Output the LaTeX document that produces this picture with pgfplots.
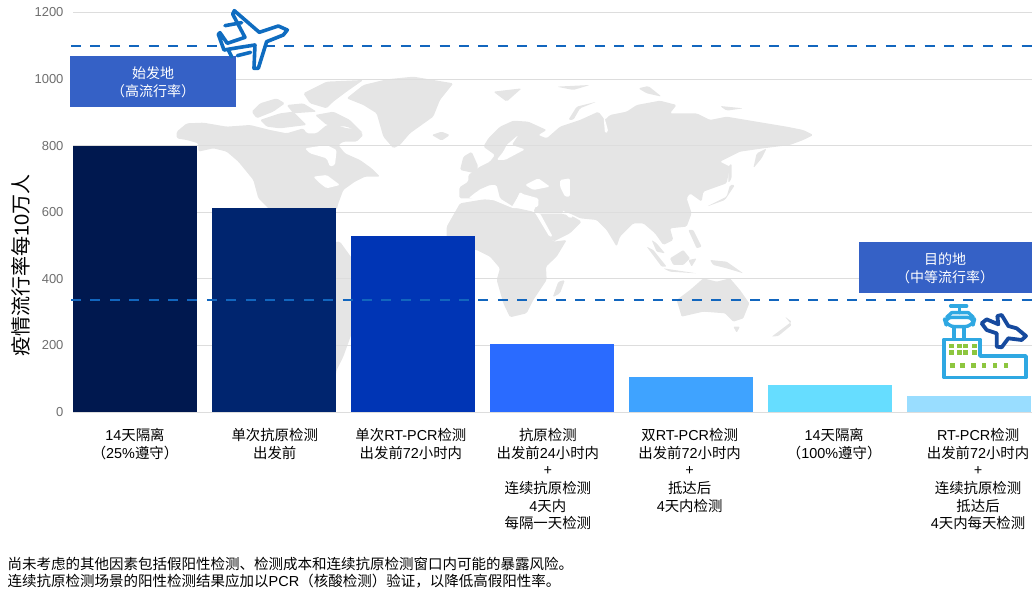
\documentclass[border=0pt]{standalone}
\usepackage{pgfplots}
\pgfplotsset{compat=1.18}
\usepackage{fontspec}
\setmainfont{Noto Sans CJK SC}
\newfontfamily\latf{Liberation Sans}
\newcommand\lat[1]{{\latf #1}}
\definecolor{mapgray}{HTML}{E5E5E5}
\definecolor{gridgray}{HTML}{DDDDDD}
\definecolor{tickgray}{HTML}{6E6E6E}
\definecolor{dashblue}{HTML}{1266BE}
\definecolor{boxblue}{HTML}{3561C6}
\definecolor{planeblue}{HTML}{0F6CC0}
\definecolor{airportblue}{HTML}{2FA8E2}
\definecolor{airportplane}{HTML}{164A9E}
\definecolor{dotgreen}{HTML}{8DC63F}
\definecolor{barA}{HTML}{00184F}
\definecolor{barB}{HTML}{00256F}
\definecolor{barC}{HTML}{0035B5}
\definecolor{barD}{HTML}{2A6BFF}
\definecolor{barE}{HTML}{3FA3FF}
\definecolor{barF}{HTML}{66DDFF}
\definecolor{barG}{HTML}{99DDFF}
\begin{document}
\begin{tikzpicture}
\path[use as bounding box] (0pt,0pt) rectangle (1032pt,592pt);

% faint world map behind the plot: the Americas and the Arctic
\begin{scope}[shift={(170pt,522pt)},x=.3333pt,y=-.3333pt,rounded corners=1.5pt]
\fill[mapgray] (20,185)--(50,160)--(100,158)--(170,170)--(240,165)--(300,180)--(350,190)--(400,175)--(410,190)--(440,190)--(470,165)--(500,165)--(530,175)--(560,175)--(580,195)--(560,215)--(520,215)--(505,225)--(525,250)--(570,270)--(605,295)--(630,320)--(585,320)--(555,335)--(520,360)--(505,400)--(500,420)--(300,420)--(265,385)--(250,330)--(205,275)--(170,245)--(130,235)--(85,245)--(85,220)--(50,210)--(20,205)--cycle;
\fill[white] (405,235)--(470,225)--(500,240)--(495,285)--(480,290)--(470,265)--(420,250)--cycle;
\fill[white] (430,320)--(470,315)--(510,345)--(470,355)--(450,340)--cycle;
\fill[mapgray] (245,125)--(270,100)--(320,85)--(345,100)--(310,125)--(260,145)--cycle;
\fill[mapgray] (270,150)--(330,130)--(370,125)--(410,165)--(330,175)--(290,170)--cycle;
\fill[mapgray] (400,70)--(470,35)--(580,30)--(530,65)--(490,95)--(470,115)--(420,100)--cycle;
\fill[mapgray] (435,135)--(490,125)--(540,150)--(580,190)--(530,170)--(470,165)--cycle;
\fill[mapgray] (350,105)--(400,100)--(440,125)--(370,130)--cycle;
% Greenland and Iceland
\fill[mapgray] (530,85)--(580,45)--(650,28)--(730,20)--(850,40)--(810,90)--(790,140)--(720,190)--(690,225)--(670,235)--(640,200)--(620,130)--(580,105)--cycle;
\fill[mapgray] (785,195)--(815,185)--(840,195)--(815,212)--cycle;
% South America, mostly behind the bars
\fill[mapgray] (400,520)--(510,515)--(600,640)--(520,860)--(500,900)--(485,1000)--(475,1000)--(470,850)--(400,700)--cycle;
\end{scope}

% Eurasia, Africa and the northern islands
\begin{scope}[shift={(470pt,522pt)},x=.3333pt,y=-.3333pt,rounded corners=1.5pt]
\fill[mapgray] (-32,352)--(-5,335)--(-5,315)--(30,290)--(60,275)--(75,255)--(40,230)--(55,205)--(90,170)--(130,152)--(175,155)--(230,180)--(205,195)--(230,205)--(270,170)--(330,150)--(385,125)--(405,150)--(420,135)--(470,125)--(500,105)--(570,92)--(620,105)--(600,130)--(680,130)--(720,150)--(770,140)--(860,155)--(950,170)--(1000,180)--(1030,195)--(1000,210)--(960,225)--(880,235)--(810,245)--(750,275)--(780,290)--(770,340)--(700,365)--(695,395)--(660,370)--(650,385)--(665,430)--(650,470)--(600,475)--(610,510)--(580,525)--(555,490)--(520,460)--(490,460)--(450,500)--(440,530)--(410,480)--(380,450)--(330,445)--(310,435)--(285,425)--(280,430)--(200,430)--(190,425)--(205,395)--(205,385)--(170,380)--(150,365)--(130,410)--(90,385)--(80,345)--(60,345)--(25,360)--(10,385)--(-32,385)--cycle;
\fill[mapgray] (200,432)--(280,432)--(310,440)--(335,455)--(300,490)--(250,515)--(240,500)--cycle;
\fill[mapgray] (-70,470)--(-30,400)--(60,385)--(120,410)--(190,425)--(205,440)--(250,515)--(290,510)--(260,560)--(228,590)--(230,630)--(190,690)--(170,730)--(120,742)--(100,700)--(80,630)--(90,595)--(60,560)--(20,540)--(-70,530)--cycle;
\fill[mapgray] (265,635)--(285,630)--(270,670)--(248,682)--cycle;
% British Isles
\fill[mapgray] (-20,260)--(5,245)--(25,290)--(15,310)--(-30,300)--cycle;
% inland seas
\fill[white] (-5,385)--(20,365)--(60,350)--(85,385)--(125,412)--(150,370)--(205,385)--(205,410)--(130,415)--(70,390)--cycle;
\fill[white] (165,345)--(205,325)--(240,350)--(190,360)--cycle;
\fill[white] (270,330)--(300,325)--(300,380)--(285,380)--(270,350)--cycle;
\fill[white] (110,225)--(145,195)--(125,225)--(165,238)--(105,270)--(80,270)--(100,245)--cycle;
\fill[white] (195,428)--(210,430)--(248,500)--(238,500)--cycle;
\fill[white] (275,420)--(310,440)--(300,445)--cycle;
\fill[white] (400,130)--(415,185)--(405,190)--cycle;
% Arctic islands
\fill[mapgray] (70,65)--(155,55)--(110,95)--cycle;
\fill[mapgray] (260,50)--(360,45)--(310,60)--cycle;
\fill[mapgray] (295,150)--(320,110)--(380,95)--(330,115)--(310,150)--cycle;
\fill[mapgray] (505,55)--(535,48)--(575,80)--(530,70)--cycle;
\fill[mapgray] (750,108)--(820,115)--(770,122)--cycle;
% Kamchatka, Sakhalin, Japan
\fill[mapgray] (850,295)--(860,250)--(890,235)--(875,265)--cycle;
\fill[mapgray] (775,290)--(785,280)--(785,325)--(775,340)--cycle;
\fill[mapgray] (710,410)--(770,380)--(780,345)--(795,345)--(765,390)--cycle;
\end{scope}

% South-east Asia and Oceania
\begin{scope}[shift={(470pt,382pt)},x=.3333pt,y=-.3333pt,rounded corners=1pt]
\fill[mapgray] (530,110)--(550,120)--(590,170)--(575,170)--cycle;
\fill[mapgray] (580,175)--(680,190)--(600,185)--cycle;
\fill[mapgray] (600,145)--(640,120)--(660,145)--(640,165)--(610,165)--cycle;
\fill[mapgray] (655,150)--(680,145)--(665,170)--cycle;
\fill[mapgray] (655,60)--(670,60)--(695,110)--(680,115)--cycle;
\fill[mapgray] (720,150)--(770,155)--(820,190)--(770,175)--(730,165)--cycle;
\fill[mapgray] (545,90)--(560,100)--(585,130)--(560,125)--cycle;
\fill[mapgray] (620,270)--(660,240)--(700,205)--(740,215)--(780,205)--(810,240)--(838,280)--(820,325)--(790,335)--(765,310)--(700,305)--(635,320)--cycle;
\fill[mapgray] (790,350)--(810,350)--(800,368)--cycle;
\fill[mapgray] (905,380)--(965,335)--(945,320)--(965,345)--(925,378)--cycle;
\end{scope}

\begin{axis}[
  at={(73pt,180pt)},anchor=south west,
  scale only axis,width=959pt,height=399.5pt,
  xmin=-0.446,xmax=6.453,ymin=0,ymax=1200,
  axis x line=none,
  axis y line=left,
  y axis line style={draw=none},
  clip=false,
  ytick={0,200,...,1200},
  ymajorgrids,
  grid style={draw=gridgray,line width=1pt},
  major tick length=0pt,
  yticklabel style={font=\latf\fontsize{13}{13}\selectfont,text=tickgray,
    /pgf/number format/assume math mode=true,
    /pgf/number format/1000 sep={},xshift=-6pt},
  ylabel={疫情流行率每\lat{10}万人},
  every axis y label/.style={at={(axis description cs:-0.0542,0.3675)},rotate=90,anchor=center,font=\fontsize{20}{22}\selectfont},
  ybar,
  bar width=124pt,
  bar shift=0pt,
]
\addplot[fill=barA,draw=none] coordinates {(0,800)};
\addplot[fill=barB,draw=none] coordinates {(1,612)};
\addplot[fill=barC,draw=none] coordinates {(2,528)};
\addplot[fill=barD,draw=none] coordinates {(3,204)};
\addplot[fill=barE,draw=none] coordinates {(4,104)};
\addplot[fill=barF,draw=none] coordinates {(5,80)};
\addplot[fill=barG,draw=none] coordinates {(6,47)};
\end{axis}

% second axis on the same frame: threshold lines and category names
\begin{axis}[
  at={(73pt,180pt)},anchor=south west,
  scale only axis,width=959pt,height=399.5pt,
  xmin=-0.446,xmax=6.453,ymin=0,ymax=1200,
  axis y line=none,
  axis x line=bottom,
  x axis line style={draw=none},
  clip=false,
  major tick length=0pt,
  xtick={0,1.005,1.985,2.97,3.99,5.03,6.065},
  xticklabels={
    {\lat{14}天隔离\\（\lat{25\%}遵守）},
    {单次抗原检测\\出发前},
    {单次\lat{RT-PCR}检测\\出发前\lat{72}小时内},
    {抗原检测\\出发前\lat{24}小时内\\+\\连续抗原检测\\\lat{4}天内\\每隔一天检测},
    {双\lat{RT-PCR}检测\\出发前\lat{72}小时内\\+\\抵达后\\\lat{4}天内检测},
    {\lat{14}天隔离\\（\lat{100\%}遵守）},
    {\lat{RT-PCR}检测\\出发前\lat{72}小时内\\+\\连续抗原检测\\抵达后\\\lat{4}天内每天检测}},
  xticklabel style={font=\fontsize{14.4}{17.6}\selectfont,align=center,anchor=north,yshift=-13pt,text=black},
]
\addplot[dashblue,line width=2pt,dash pattern=on 10pt off 9.4pt] coordinates {(-0.46,1100) (6.453,1100)};
\addplot[dashblue,line width=2pt,dash pattern=on 10pt off 9.4pt] coordinates {(-0.46,336) (6.453,336)};
\end{axis}

% callouts, icons and the closing note
\begin{scope}[shift={(0pt,592pt)},x=1pt,y=-1pt]
\fill[boxblue] (70,56) rectangle (236,107);
\node[text=white,align=center,font=\fontsize{14}{18.5}\selectfont] at (153,82.5) {始发地\\（高流行率）};
\fill[boxblue] (859,242) rectangle (1032,293);
\node[text=white,align=center,font=\fontsize{14}{18.5}\selectfont] at (945,268.5) {目的地\\（中等流行率）};

% departing aeroplane
\begin{scope}[x=.3333pt,y=-.3333pt,planeblue,line width=3.6pt,line join=round,line cap=round]
\filldraw[fill=white] (862,90)--(835,78)--(778,97)--(703,32)--(698,42)--(735,112)--(682,130)--(660,98)--(655,103)--(672,150)--(720,142)--(765,135)--(762,205)--(775,205)--(800,125)--(850,105)--cycle;
\draw (675,77)--(725,68);
\draw (712,167)--(752,157);
\draw (685,150)--(695,170);
\end{scope}

% airport with control tower
\begin{scope}[shift={(800pt,-230pt)},x=.3333pt,y=-.3333pt,line width=3.4pt,line join=round,line cap=round]
\filldraw[airportblue,fill=white] (432,328)--(540,328)--(540,378)--(678,378)--(678,443)--(432,443)--cycle;
\draw[airportblue] (462,290)--(462,328) (492,290)--(492,328);
\draw[airportblue,rounded corners=8pt] (432,262)--(525,262)--(518,290)--(440,290)--cycle;
\draw[airportblue] (440,262)--(455,248)--(505,248)--(520,262);
\draw[airportblue] (452,228)--(500,228) (478,228)--(478,248);
\foreach \px in {455,478,497,523}{\fill[dotgreen] (\px-7,341) rectangle (\px+7,354);\fill[dotgreen] (\px-7,361) rectangle (\px+7,374);}
\foreach \px in {458,488,520,552,585,618}{\fill[dotgreen] (\px-7,400) rectangle (\px+7,414);}
\filldraw[airportplane,fill=white,line width=3.8pt] (678,318)--(650,295)--(625,288)--(605,255)--(592,258)--(595,283)--(560,268)--(545,280)--(560,300)--(590,310)--(590,350)--(605,352)--(625,325)--(665,330)--cycle;
\end{scope}

\node[anchor=west,align=left,font=\fontsize{14.5}{17}\selectfont,inner sep=0pt] at (7.5,572.5) {尚未考虑的其他因素包括假阳性检测、检测成本和连续抗原检测窗口内可能的暴露风险。\\连续抗原检测场景的阳性检测结果应加以\lat{PCR}（核酸检测）验证，以降低高假阳性率。};
\end{scope}
\end{tikzpicture}
\end{document}
